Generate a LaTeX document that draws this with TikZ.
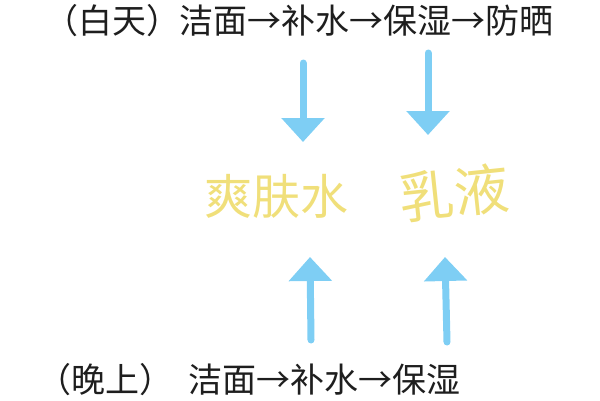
\documentclass[tikz,border=0pt]{standalone}
\usepackage{fontspec}
\usepackage{tikz}
\usetikzlibrary{arrows.meta}
\newfontfamily\cjk{Noto Sans CJK SC}
\definecolor{careblue}{HTML}{7ECEF4}
\definecolor{careyellow}{HTML}{F0DF7A}
\definecolor{caretext}{HTML}{1E1E1E}

\begin{document}
\begin{tikzpicture}[x=1pt,y=-1pt,
    steptext/.style={inner sep=0pt,text=caretext,font=\cjk\fontsize{34}{34}\selectfont},
    product/.style={inner sep=0pt,text=careyellow},
    flow/.style={-{Triangle[width=42pt,length=24pt]},line width=7pt,line cap=round,careblue}]
    \useasboundingbox (0,0) rectangle (600,400);
    \node[steptext] (day) at (299,21) {（白天）洁面→补水→保湿→防晒};
    \node[steptext] (night) at (249,380) {（晚上）\hspace{15pt}洁面→补水→保湿};
    \node[product,font=\cjk\fontsize{48}{48}\selectfont] (toner) at (276,196) {爽肤水};
    \node[product,font=\cjk\fontsize{55}{55}\selectfont,rotate=6] (lotion) at (454,193) {乳液};
    \coordinate (dayA) at (303,63);
    \coordinate (dayB) at (428,53);
    \coordinate (tonerIn) at (303,142);
    \coordinate (lotionIn) at (428,135);
    \coordinate (nightA) at (311,340);
    \coordinate (nightB) at (447,342);
    \coordinate (tonerUp) at (310,257);
    \coordinate (lotionUp) at (445,257);
    \draw[flow] (dayA) -- (tonerIn);
    \draw[flow] (dayB) -- (lotionIn);
    \draw[flow] (nightA) -- (tonerUp);
    \draw[flow] (nightB) -- (lotionUp);
  \end{tikzpicture}
\end{document}
